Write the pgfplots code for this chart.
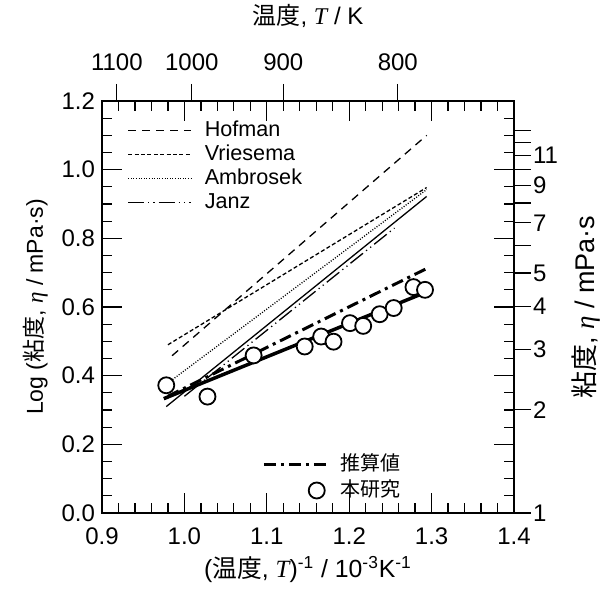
\documentclass[border=0pt]{standalone}
\usepackage{fontspec}
\setmainfont{Liberation Sans}
\newfontfamily\cjk{Noto Sans CJK JP}
\newfontfamily\tms{Liberation Serif}
\usepackage{pgfplots}
\pgfplotsset{compat=1.18}
\newcommand{\J}[1]{{\cjk #1}}
\newcommand{\itT}{{\tms\itshape T}}
\newcommand{\etaI}{{\tms\itshape η}}
\pgfplotsset{
  litleg/.style={legend image code/.code={\draw[##1] (0pt,0pt) -- (31.5pt,0pt);}},
  estleg/.style={legend image code/.code={\draw[##1] (0pt,0pt) -- (33pt,0pt);}},
  circleg/.style={legend image code/.code={\draw[draw=none] (0pt,0pt) -- (33pt,0pt); \draw[##1, draw=none] plot coordinates {(26.5pt,0pt)};}},
}
\begin{document}
\begin{tikzpicture}[font=\fontsize{12}{14}\selectfont]
\path[use as bounding box] (-51pt,-37.5pt) rectangle (253pt,256.5pt);
\begin{axis}[
  at={(0pt,0pt)}, anchor=south west,
  scale only axis, width=206pt, height=206pt,
  xmin=0.9, xmax=1.4, ymin=0, ymax=1.2,
  xtick={0.9,1.0,1.1,1.2,1.3,1.4},
  ytick={0,0.2,0.4,0.6,0.8,1.0,1.2},
  minor x tick num=4, minor y tick num=3,
  tick align=inside,
  major tick length=10pt, minor tick length=5pt,
  xtick pos=both, ytick pos=both,
  xticklabel pos=lower, yticklabel pos=left,
  tick style={black, line width=0.65pt},
  axis line style={line width=0.65pt},
  xticklabel={\pgfmathprintnumber[fixed,fixed zerofill,precision=1,assume math mode=true]{\tick}},
  yticklabel={\pgfmathprintnumber[fixed,fixed zerofill,precision=1,assume math mode=true]{\tick}},
  xticklabel style={yshift=-4pt},
  xlabel style={font=\fontsize{12.4}{14}\selectfont, yshift=1pt},
  ylabel style={font=\fontsize{11.5}{13}\selectfont},
  xlabel={(\J{温度}, \itT)\textsuperscript{-1} / 10\textsuperscript{-3}K\textsuperscript{-1}},
  ylabel={Log (\J{粘度}, \etaI{} / mPa·s)},
  legend style={draw=none, fill=none, at={(0.061,0.954)}, anchor=north west,
    inner sep=0pt, row sep=1.8pt, font=\fontsize{10.8}{12}\selectfont,
    nodes={inner sep=0pt, text height=8pt, text depth=2.2pt},
    /tikz/every odd column/.append style={column sep=6.5pt}},
  legend cell align=left,
]
\addplot[litleg, black, line width=0.65pt, dash pattern=on 4pt off 3pt] coordinates {(0.985,0.458) (1.294,1.100)};
\addlegendentry{Hofman}
\addplot[litleg, black, line width=0.65pt, dash pattern=on 2pt off 1.2pt] coordinates {(0.980,0.490) (1.294,0.948)};
\addlegendentry{Vriesema}
\addplot[litleg, black, line width=0.65pt, dash pattern=on 0.5pt off 0.8pt] coordinates {(0.978,0.375) (1.294,0.942)};
\addlegendentry{Ambrosek}
\addplot[litleg, black, line width=0.65pt, dash pattern=on 8pt off 2pt on 0.6pt off 2pt on 0.6pt off 2pt] coordinates {(1.000,0.340) (1.255,0.830)};
\addlegendentry{Janz}
\addplot[black, line width=0.65pt, forget plot] coordinates {(0.978,0.310) (1.294,0.922)};
\end{axis}
\begin{axis}[
  at={(0pt,0pt)}, anchor=south west,
  scale only axis, width=206pt, height=206pt,
  xmin=0.9, xmax=1.4, ymin=0, ymax=1.2,
  axis line style={line width=0.65pt},
  tick align=outside, major tick length=8.5pt,
  xtick pos=upper, ytick pos=upper,
  xticklabel pos=upper, yticklabel pos=upper,
  xtick={0.918,1.009,1.120,1.259}, xticklabels={1100,1000,900,800},
  ytick={0,0.30103,0.47712,0.60206,0.69897,0.77815,0.84510,0.90309,0.95424,1,1.04139,1.07918,1.11394},
  yticklabels={1,2,3,4,5,{},7,{},9,{},11,{},{}},
  minor tick num=0,
  tick style={black, line width=0.65pt},
  xticklabel style={yshift=3pt},
  yticklabel style={xshift=-2.5pt},
  xlabel near ticks, ylabel near ticks,
  xlabel style={yshift=6.5pt},
  ylabel style={font=\fontsize{13.5}{15}\selectfont},
  xlabel={\J{温度}, \itT{} / K},
  ylabel={\J{粘度}, \etaI{} / mPa·s},
  legend style={draw=none, fill=none, at={(0.388,0.143)}, anchor=north west,
    inner sep=0pt, row sep=3pt, font=\fontsize{10}{12}\selectfont,
    nodes={inner sep=0pt, text height=8pt, text depth=2pt},
    /tikz/every odd column/.append style={column sep=4.5pt}},
  legend cell align=left,
]
\addplot[black, line width=1.75pt, forget plot] coordinates {(0.975,0.333) (1.290,0.640)};
\addplot[estleg, black, line width=1.5pt, dash pattern=on 6pt off 2.5pt on 1.5pt off 2.5pt] coordinates {(0.980,0.340) (1.294,0.712)};
\addlegendentry{\J{推算値}}
\addplot[circleg, only marks, mark=*, mark size=4pt, mark options={fill=white, draw=black, line width=0.9pt}]
  coordinates {(0.978,0.372) (1.028,0.339) (1.084,0.459) (1.146,0.485) (1.166,0.514) (1.181,0.499)
               (1.201,0.553) (1.217,0.545) (1.237,0.579) (1.254,0.597) (1.278,0.658) (1.292,0.650)};
\addlegendentry{\J{本研究}}
\end{axis}
\end{tikzpicture}
\end{document}
